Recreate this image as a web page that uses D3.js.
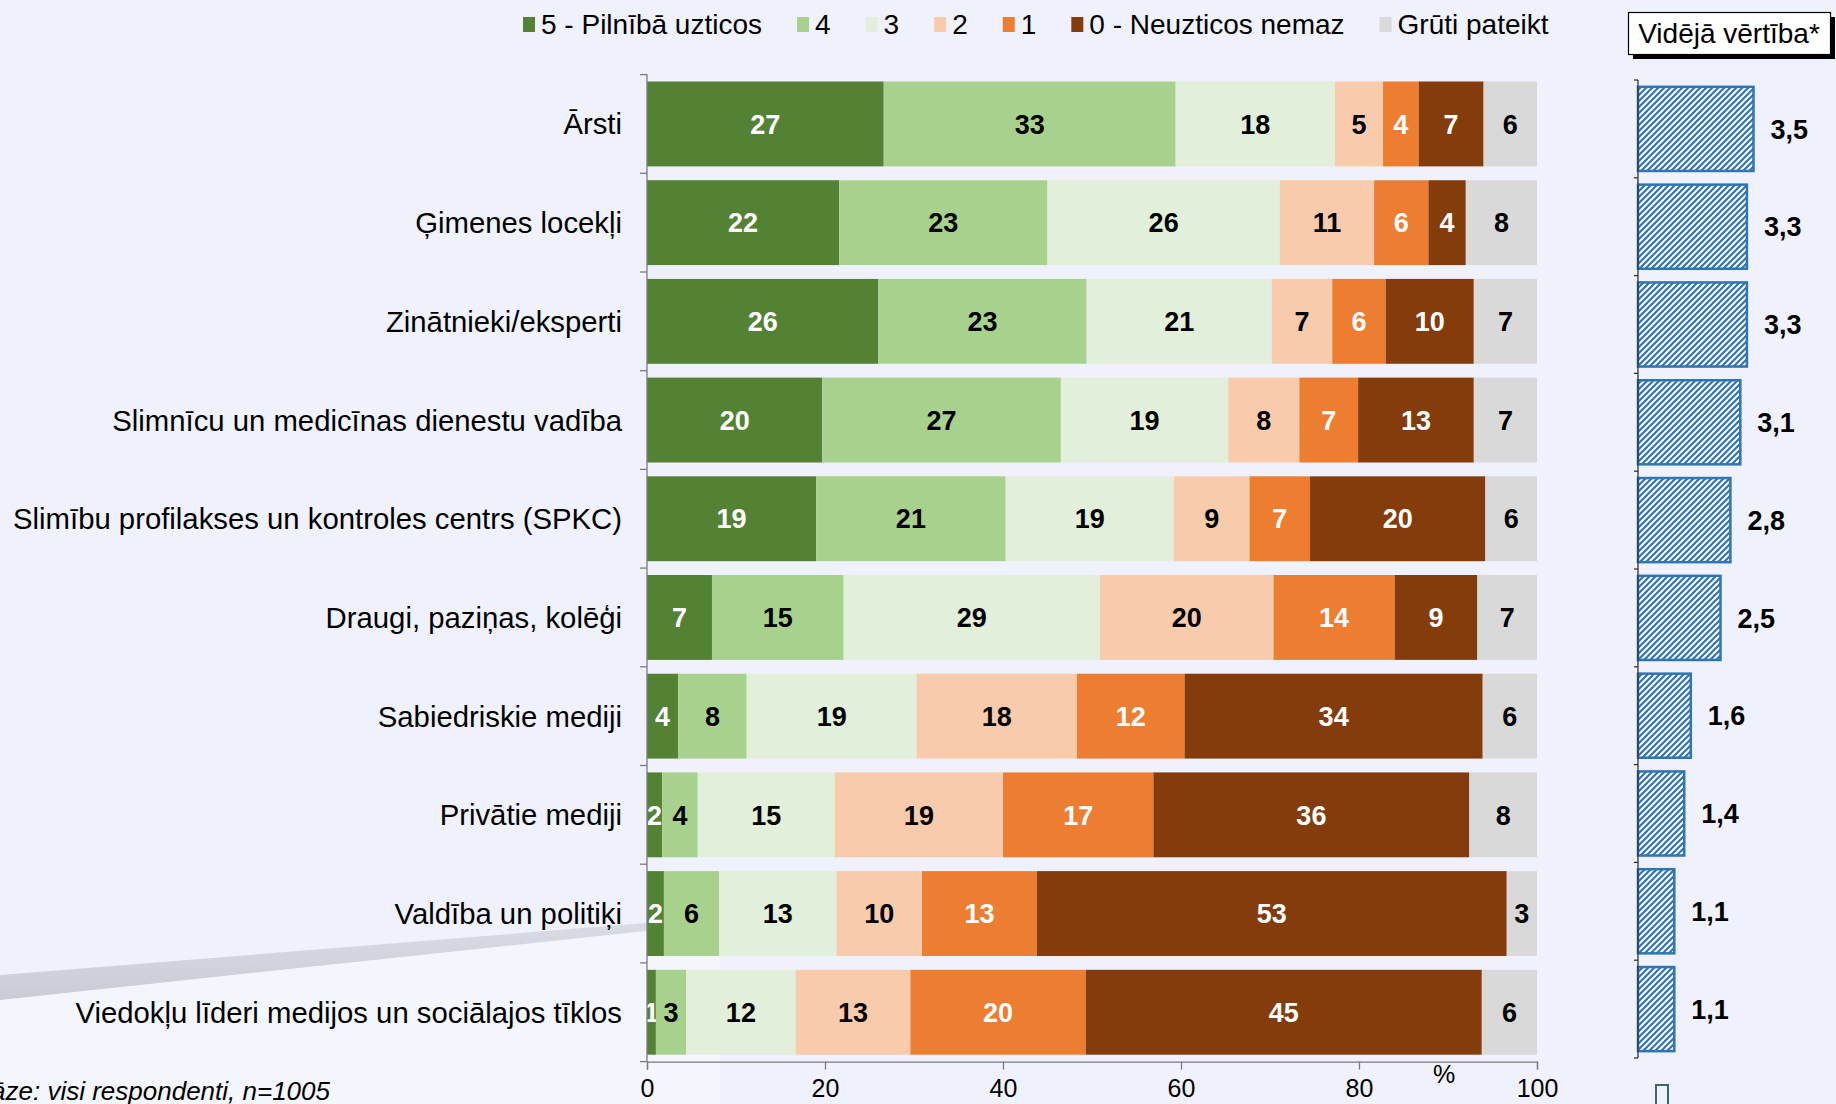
<!DOCTYPE html>
<html>
<head>
<meta charset="utf-8">
<script src="https://cdn.jsdelivr.net/npm/d3@7"></script>
<style>
  html, body { margin: 0; padding: 0; background: #EFF2FC; }
  svg { display: block; font-family: "Liberation Sans", Arial, sans-serif; }
</style>
</head>
<body>
<div id="chart"></div>
<script>
// Kategorijas
const categories = [
    'Ārsti',
    'Ģimenes locekļi',
    'Zinātnieki/eksperti',
    'Slimnīcu un medicīnas dienestu vadība',
    'Slimību profilakses un kontroles centrs (SPKC)',
    'Draugi, paziņas, kolēģi',
    'Sabiedriskie mediji',
    'Privātie mediji',
    'Valdība un politiķi',
    'Viedokļu līderi medijos un sociālajos tīklos'
];

const seriesNames = ['5 - Pilnībā uzticos', '4', '3', '2', '1', '0 - Neuzticos nemaz', 'Grūti pateikt'];
const seriesColors = ['#548235', '#A9D18E', '#E2EFDA', '#F8CBAD', '#ED7D31', '#843C0C', '#D9D9D9'];
const whiteLabel = [true, false, false, false, true, true, false];

// Vērtības (%)
const trust5 = [26.6, 21.6, 26.0, 19.7, 19.0, 7.3, 3.5, 1.7, 1.9, 1.0];
const trust4 = [32.8, 23.4, 23.4, 26.8, 21.3, 14.8, 7.7, 4.0, 6.2, 3.4];
const trust3 = [17.9, 26.1, 20.8, 18.8, 18.9, 28.8, 19.1, 15.4, 13.2, 12.3];
const trust2 = [5.4, 10.6, 6.8, 8.0, 8.5, 19.5, 18.0, 18.9, 9.6, 12.9];
const trust1 = [4.0, 6.1, 6.0, 6.6, 6.8, 13.6, 12.1, 16.9, 12.9, 19.7];
const trust0 = [7.3, 4.2, 9.9, 13.0, 19.7, 9.3, 33.5, 35.5, 52.8, 44.5];
const hardToSay = [6.0, 8.0, 7.1, 7.1, 5.8, 6.7, 6.1, 7.6, 3.4, 6.2];

// Vidējā vērtība
const means = [3.5, 3.3, 3.3, 3.1, 2.8, 2.5, 1.6, 1.4, 1.1, 1.1];

const xTicks = [0, 20, 40, 60, 80, 100];

const W = 1836, H = 1104;
const svg = d3.select('#chart').append('svg')
    .attr('width', W)
    .attr('height', H);

// Fons
const defs = svg.append('defs');
const grad = defs.append('linearGradient')
    .attr('id', 'swoosh')
    .attr('x1', 0).attr('y1', 0).attr('x2', 0).attr('y2', 1);
grad.append('stop').attr('offset', '0%').attr('stop-color', '#DADDE5');
grad.append('stop').attr('offset', '100%').attr('stop-color', '#C9CCD4');

const hatch = defs.append('pattern')
    .attr('id', 'hatch')
    .attr('patternUnits', 'userSpaceOnUse')
    .attr('width', 6).attr('height', 6);
hatch.append('rect').attr('width', 6).attr('height', 6).attr('fill', '#fff');
hatch.append('path')
    .attr('d', 'M-1,7 L7,-1 M-4,4 L4,-4 M2,10 L10,2')
    .attr('stroke', '#2E75B6')
    .attr('stroke-width', 2.2);

svg.append('rect').attr('width', W).attr('height', H).attr('fill', '#EFF2FC');
svg.append('path')
    .attr('d', 'M0,998 L720,922 L720,' + H + ' L0,' + H + ' Z')
    .attr('fill', '#F4F6FE');
svg.append('path')
    .attr('d', 'M0,975 L720,917 L720,923 L0,1000 Z')
    .attr('fill', 'url(#swoosh)');

// Skalas
const x = d3.scaleLinear().domain([0, 100]).range([647, 1537]);
const y = d3.scaleBand().domain(categories).range([74.6, 1061.6])
    .paddingInner(0.14).paddingOuter(0.07);

const rows = categories.map((c, i) => ({
    cat: c,
    0: trust5[i], 1: trust4[i], 2: trust3[i], 3: trust2[i],
    4: trust1[i], 5: trust0[i], 6: hardToSay[i]
}));
const stacked = d3.stack().keys(d3.range(7))(rows);

// Stabiņi
const layer = svg.append('g')
    .selectAll('g')
    .data(stacked)
    .enter().append('g')
    .attr('fill', d => seriesColors[d.key]);

layer.selectAll('rect')
    .data(d => d)
    .enter().append('rect')
    .attr('x', d => x(d[0]))
    .attr('y', d => y(d.data.cat))
    .attr('width', d => x(d[1]) - x(d[0]))
    .attr('height', y.bandwidth());

layer.selectAll('text')
    .data(d => d.map(v => ({ v, key: d.key })))
    .enter().append('text')
    .attr('x', d => (x(d.v[0]) + x(d.v[1])) / 2)
    .attr('y', d => y(d.v.data.cat) + y.bandwidth() / 2)
    .attr('dy', '0.36em')
    .attr('text-anchor', 'middle')
    .attr('font-size', '27px')
    .attr('font-weight', 'bold')
    .attr('fill', d => whiteLabel[d.key] ? '#fff' : '#000')
    .text(d => Math.round(d.v.data[d.key]));

// Asis
const axisColor = '#7a7a7a';
const yTop = y.range()[0];
svg.append('line')
    .attr('x1', x(0)).attr('x2', x(0))
    .attr('y1', yTop).attr('y2', y.range()[1])
    .attr('stroke', axisColor).attr('stroke-width', 1.3);
svg.append('g')
    .selectAll('line')
    .data(d3.range(categories.length + 1))
    .enter().append('line')
    .attr('x1', x(0) - 7).attr('x2', x(0))
    .attr('y1', i => yTop + i * y.step())
    .attr('y2', i => yTop + i * y.step())
    .attr('stroke', axisColor).attr('stroke-width', 1.3);

const xAxis = svg.append('g')
    .attr('transform', `translate(0,${y.range()[1]})`)
    .call(d3.axisBottom(x).tickValues(xTicks).tickSize(8).tickPadding(10));
xAxis.select('.domain').attr('stroke', axisColor).attr('stroke-width', 1.3);
xAxis.selectAll('.tick line').attr('stroke', axisColor).attr('stroke-width', 1.3);
xAxis.selectAll('text')
    .attr('font-size', '25px')
    .attr('font-family', '"Liberation Sans", Arial, sans-serif')
    .attr('fill', '#000');

svg.append('text')
    .attr('x', 1444).attr('y', 1083)
    .attr('text-anchor', 'middle')
    .attr('font-size', '25px')
    .text('%');

// Kategoriju nosaukumi
svg.append('g')
    .selectAll('text')
    .data(categories)
    .enter().append('text')
    .attr('x', 622)
    .attr('y', d => y(d) + y.bandwidth() / 2)
    .attr('dy', '0.36em')
    .attr('text-anchor', 'end')
    .attr('font-size', '29.3px')
    .attr('fill', '#000')
    .text(d => d);

// Leģenda
const legend = svg.append('g');
let lx = 523;
seriesNames.forEach((name, i) => {
    legend.append('rect')
        .attr('x', lx).attr('y', 17)
        .attr('width', 12).attr('height', 15)
        .attr('fill', seriesColors[i]);
    const t = legend.append('text')
        .attr('x', lx + 18).attr('y', 34)
        .attr('font-size', '28px')
        .text(name);
    lx += 18 + t.node().getComputedTextLength() + 35;
});

// Vidējā vērtība
const xm = d3.scaleLinear().domain([0, 5]).range([1638, 1803]);
const ym = d3.scaleBand().domain(categories).range([80, 1058])
    .paddingInner(0.14).paddingOuter(0.07);

svg.append('rect')
    .attr('x', 1633).attr('y', 17)
    .attr('width', 202).attr('height', 42)
    .attr('fill', '#000');
svg.append('rect')
    .attr('x', 1628.5).attr('y', 12.5)
    .attr('width', 202).attr('height', 42)
    .attr('fill', '#fff')
    .attr('stroke', '#000').attr('stroke-width', 1.2);
svg.append('text')
    .attr('x', 1729).attr('y', 43)
    .attr('text-anchor', 'middle')
    .attr('font-size', '28px')
    .text('Vidējā vērtība*');

svg.append('g')
    .selectAll('rect')
    .data(means)
    .enter().append('rect')
    .attr('x', xm(0))
    .attr('y', (d, i) => ym(categories[i]))
    .attr('width', d => xm(d) - xm(0))
    .attr('height', ym.bandwidth())
    .attr('fill', 'url(#hatch)')
    .attr('stroke', '#2E75B6')
    .attr('stroke-width', 2.5);

svg.append('g')
    .selectAll('text')
    .data(means)
    .enter().append('text')
    .attr('x', d => xm(d) + 17)
    .attr('y', (d, i) => ym(categories[i]) + ym.bandwidth() / 2)
    .attr('dy', '0.36em')
    .attr('font-size', '27px')
    .attr('font-weight', 'bold')
    .text(d => d.toFixed(1).replace('.', ','));

const ymTop = ym.range()[0];
svg.append('line')
    .attr('x1', xm(0)).attr('x2', xm(0))
    .attr('y1', ymTop).attr('y2', ym.range()[1])
    .attr('stroke', '#333').attr('stroke-width', 1.3);
svg.append('g')
    .selectAll('line')
    .data(d3.range(categories.length + 1))
    .enter().append('line')
    .attr('x1', xm(0) - 4).attr('x2', xm(0))
    .attr('y1', i => ymTop + i * ym.step())
    .attr('y2', i => ymTop + i * ym.step())
    .attr('stroke', '#333').attr('stroke-width', 1.3);

// Trūkstošās zīmes kastīte
svg.append('rect')
    .attr('x', 1656).attr('y', 1085)
    .attr('width', 12).attr('height', 24)
    .attr('fill', 'none')
    .attr('stroke', '#3A6B5A').attr('stroke-width', 2);

// Piezīme
svg.append('text')
    .attr('x', 330).attr('y', 1100)
    .attr('text-anchor', 'end')
    .attr('font-size', '26px')
    .attr('font-style', 'italic')
    .text('Bāze: visi respondenti, n=1005');
</script>
</body>
</html>
